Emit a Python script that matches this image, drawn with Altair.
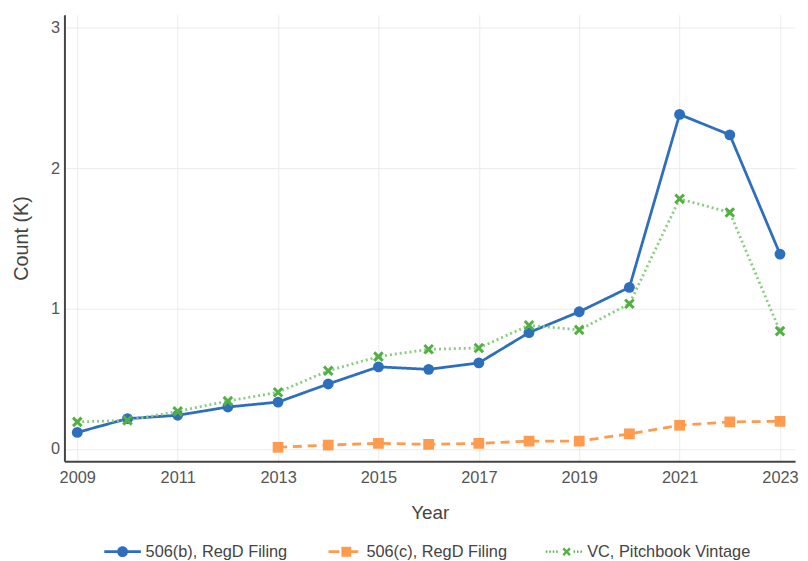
import altair as alt
import pandas as pd

# ---- data (values in thousands) ----
years = list(range(2009, 2024))
b506 = [0.118, 0.216, 0.240, 0.299, 0.334, 0.463, 0.585, 0.567, 0.613, 0.829, 0.977, 1.151, 2.382, 2.237, 1.388]
c_years = list(range(2013, 2024))
c506 = [0.012, 0.028, 0.040, 0.033, 0.040, 0.056, 0.056, 0.108, 0.169, 0.193, 0.197]
vc = [0.193, 0.204, 0.268, 0.341, 0.404, 0.557, 0.658, 0.710, 0.719, 0.881, 0.848, 1.034, 1.781, 1.684, 0.839]

series = ["506(b), RegD Filing", "506(c), RegD Filing", "VC, Pitchbook Vintage"]
x_ticks = [2009, 2011, 2013, 2015, 2017, 2019, 2021, 2023]
y_ticks = [0, 1, 2, 3]

rows = []
for y, v in zip(years, b506):
    rows.append({"year": y, "count": v, "series": series[0]})
for y, v in zip(c_years, c506):
    rows.append({"year": y, "count": v, "series": series[1]})
for y, v in zip(years, vc):
    rows.append({"year": y, "count": v, "series": series[2]})
df = pd.DataFrame(rows)

BLUE = "#2e6fbd"
ORANGE = "#ff9b4f"
GREEN = "#52b043"
GREEN_LINE = "#86ce7b"
FONT = "Liberation Sans"

X_SHAPE = "M-1,-0.6L-0.6,-1L0,-0.4L0.6,-1L1,-0.6L0.4,0L1,0.6L0.6,1L0,0.4L-0.6,1L-1,0.6L-0.4,0Z"


def xpath(s, cx=0.0):
    pts = [(-1, -0.6), (-0.6, -1), (0, -0.4), (0.6, -1), (1, -0.6), (0.4, 0), (1, 0.6),
           (0.6, 1), (0, 0.4), (-0.6, 1), (-1, 0.6), (-0.4, 0)]
    return "M" + "L".join(f"{cx + px * s:.3f},{py * s:.3f}" for px, py in pts) + "Z"


def rect(x0, x1, h=0.28):
    return f"M{x0},{-h}H{x1}V{h}H{x0}Z"


def circ(r):
    return f"M{-r},0A{r},{r} 0 1,1 {r},0A{r},{r} 0 1,1 {-r},0Z"


LEG_B = rect(-3.7, -1.05) + rect(1.05, 3.7) + circ(1.1)
LEG_C = rect(-3.0, -0.8) + "M-0.4,-1H1.6V1H-0.4Z" + rect(1.6, 3.0)
LEG_V = "".join(rect(a, a + 0.3, 0.22) for a in [-3.7, -3.0, -2.3, -1.6, 1.9, 2.6, 3.3]) + xpath(0.85, 0.5)

xscale = alt.Scale(domain=[2008.744, 2023.3], nice=False, zero=False)
yscale = alt.Scale(domain=[-0.087, 3.092], nice=False, zero=False)

xenc = alt.X("year:Q", scale=xscale,
             axis=alt.Axis(values=x_ticks, format="d", title="Year", grid=True,
                           ticks=False, labelPadding=8, titlePadding=18, titleFontSize=19))
yenc = alt.Y("count:Q", scale=yscale,
             axis=alt.Axis(values=y_ticks, format="d", title="Count (K)", grid=True,
                           ticks=False, labelPadding=5, titlePadding=19, titleFontSize=20))

base = alt.Chart(df)

lines = base.mark_line(strokeWidth=2.8).encode(
    x=xenc, y=yenc,
    color=alt.Color("series:N", scale=alt.Scale(domain=series, range=[BLUE, ORANGE, GREEN_LINE]), legend=None),
    strokeDash=alt.StrokeDash("series:N", scale=alt.Scale(domain=series, range=[[1, 0], [9, 6], [2, 3]]), legend=None),
    detail="series:N",
)

points = base.mark_point(filled=True, opacity=1).encode(
    x=xenc, y=yenc,
    color=alt.Color("series:N", scale=alt.Scale(domain=series, range=[BLUE, ORANGE, GREEN]), legend=None),
    shape=alt.Shape("series:N", scale=alt.Scale(domain=series, range=["circle", "square", X_SHAPE]), legend=None),
    size=alt.Size("series:N", scale=alt.Scale(domain=series, range=[120, 115, 85]), legend=None),
)

leg = alt.Legend(title=None, orient="none", legendX=50.5, legendY=534, direction="horizontal",
                 columns=3, gridAlign="all", columnPadding=15, labelOffset=15,
                 labelLimit=400,
                 symbolSize=100, labelFontSize=16.5, labelColor="#444", labelFont=FONT,
                 symbolStrokeWidth=0, symbolOpacity=1)

legend_layer = base.mark_point(filled=True, opacity=1, size=100).encode(
    x=xenc, y=yenc,
    color=alt.Color("series:N", scale=alt.Scale(domain=series, range=[BLUE, ORANGE, GREEN]), legend=leg),
    shape=alt.Shape("series:N", scale=alt.Scale(domain=series, range=[LEG_B, LEG_C, LEG_V]), legend=leg),
).transform_filter("datum.year < 0")

chart = alt.layer(lines, points, legend_layer).resolve_scale(
    color="independent", shape="independent"
).properties(
    width=738, height=451,
    autosize=alt.AutoSizeParams(type="none"),
    padding={"left": 57, "top": 4, "right": 5, "bottom": 98},
).configure_view(stroke=None).configure_axis(
    domainColor="#444", domainWidth=2, gridColor="#ebebeb", gridWidth=1,
    labelFont=FONT, labelFontSize=16.5, labelColor="#555",
    titleFont=FONT, titleColor="#444", titleFontWeight="normal",
)

chart.save("out.html", embed_options={"renderer": "svg", "actions": False})
